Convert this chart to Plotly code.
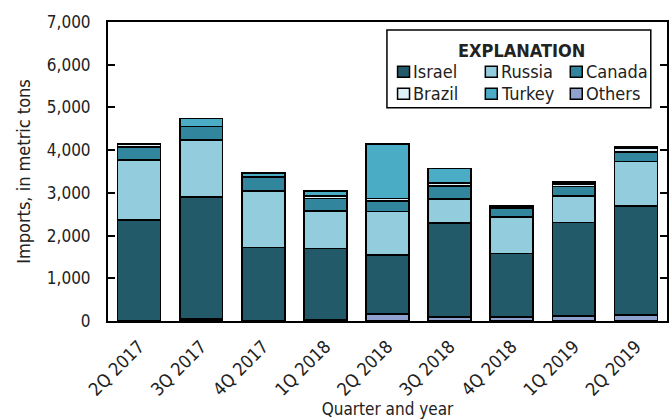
import plotly.graph_objects as go

# Quarterly imports by source country, metric tons
quarters = ["2Q 2017", "3Q 2017", "4Q 2017", "1Q 2018", "2Q 2018",
            "3Q 2018", "4Q 2018", "1Q 2019", "2Q 2019"]
others = [10, 40, 0, 20, 160, 100, 100, 120, 140]
israel = [2360, 2870, 1720, 1680, 1390, 2200, 1485, 2190, 2553]
russia = [1400, 1330, 1330, 875, 1015, 555, 845, 620, 1037]
canada = [310, 310, 305, 297, 250, 310, 210, 220, 227]
brazil = [65, 0, 20, 50, 50, 65, 55, 60, 100]
turkey = [0, 195, 95, 120, 1280, 345, 0, 40, 24]

# Stacking order, bottom to top
series = [
    ("Others", others, "#8fa2cf"),
    ("Israel", israel, "#225a69"),
    ("Russia", russia, "#93cddd"),
    ("Canada", canada, "#31869d"),
    ("Brazil", brazil, "#dcf0f5"),
    ("Turkey", turkey, "#4bacc6"),
]
colors = {name: col for name, _, col in series}

FONT = "DejaVu Sans Condensed"
TXT = "#222222"

fig = go.Figure()
for name, vals, col in series:
    fig.add_trace(go.Bar(
        x=quarters, y=vals, name=name,
        marker=dict(color=col, line=dict(color="black", width=1.6)),
        showlegend=False,
    ))

# Explanation box (plot-area paper coordinates)
fig.add_shape(type="rect", xref="paper", yref="paper",
              x0=0.499, x1=0.971, y0=0.713, y1=0.973,
              line=dict(color="black", width=1.5), fillcolor="white", layer="above")
fig.add_annotation(text="<b>EXPLANATION</b>", xref="paper", yref="paper",
                   x=0.739, y=0.904, xanchor="center", yanchor="middle",
                   showarrow=False, font=dict(family=FONT, size=18, color=TXT))

legend_rows = [["Israel", "Russia", "Canada"], ["Brazil", "Turkey", "Others"]]
col_x = [0.518, 0.675, 0.827]   # left edge of each legend swatch
row_y = [0.834, 0.760]          # vertical centre of each row
sw, sh = 12 / 561, 11 / 299
for r, row in enumerate(legend_rows):
    for c, name in enumerate(row):
        x0 = col_x[c]
        yc = row_y[r]
        fig.add_shape(type="rect", xref="paper", yref="paper",
                      x0=x0, x1=x0 + sw, y0=yc - sh / 2, y1=yc + sh / 2,
                      line=dict(color="black", width=1.5),
                      fillcolor=colors[name], layer="above")
        fig.add_annotation(text=name, xref="paper", yref="paper",
                           x=x0 + sw + 0.003, y=yc, xanchor="left", yanchor="middle",
                           showarrow=False,
                           font=dict(family=FONT, size=18, color=TXT))

fig.update_layout(
    barmode="stack",
    bargap=0.31,
    width=672, height=419,
    margin=dict(l=108, r=3, t=22, b=98),
    paper_bgcolor="white", plot_bgcolor="white",
    font=dict(family=FONT, size=16, color=TXT),
    xaxis=dict(
        showline=True, linecolor="black", linewidth=2, mirror=True,
        ticks="", tickangle=-45, tickfont=dict(size=18),
        ticklabelstandoff=6,
        title=dict(text="Quarter and year", font=dict(size=17), standoff=2),
    ),
    yaxis=dict(
        range=[0, 7000], dtick=1000, tickformat=",",
        showline=True, linecolor="black", linewidth=2, mirror="ticks",
        ticks="inside", ticklen=7, tickwidth=2, tickcolor="black",
        ticklabelstandoff=12,
        showgrid=False, zeroline=False, tickfont=dict(size=17),
        title=dict(text="Imports, in metric tons", font=dict(size=18), standoff=12),
    ),
)

fig.write_html("out.html")
